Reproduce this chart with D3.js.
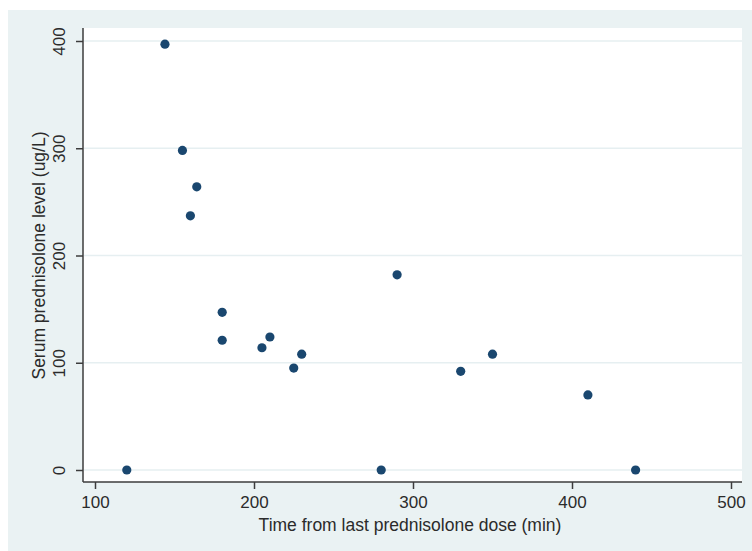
<!DOCTYPE html>
<html>
<head>
<meta charset="utf-8">
<script src="https://cdn.jsdelivr.net/npm/d3@7"></script>
<style>
  body { margin: 0; background: #ffffff; }
  text { font-family: "Liberation Sans", Arial, sans-serif; fill: #2b2b2b; }
</style>
</head>
<body>
<div id="chart"></div>
<script>
// data
var timeMin = [120, 144, 155, 164, 160, 180, 180, 205, 210, 225, 230, 280, 290, 330, 350, 410, 440];
var serumLevel = [0, 397, 298, 264, 237, 147, 121, 114, 124, 95, 108, 0, 182, 92, 108, 70, 0];
var xTicks = [100, 200, 300, 400, 500];
var yTicks = [0, 100, 200, 300, 400];
var xTitle = "Time from last prednisolone dose (min)";
var yTitle = "Serum prednisolone level (ug/L)";

var W = 752, H = 551;
var plot = { left: 83, right: 742, top: 28, bottom: 482 };

var svg = d3.select("#chart").append("svg")
    .attr("width", W)
    .attr("height", H);

// outer graph region
svg.append("rect")
    .attr("x", 8).attr("y", 10)
    .attr("width", W - 8).attr("height", H - 10)
    .attr("fill", "#eaf2f3");

// plot region
svg.append("rect")
    .attr("x", plot.left).attr("y", plot.top)
    .attr("width", plot.right - plot.left)
    .attr("height", plot.bottom - plot.top)
    .attr("fill", "#ffffff");

var x = d3.scaleLinear().domain([100, 500]).range([95, 731]);
var y = d3.scaleLinear().domain([0, 400]).range([470, 41]);

// horizontal grid
svg.append("g")
    .selectAll("line")
    .data(yTicks)
    .join("line")
    .attr("x1", plot.left + 1)
    .attr("x2", plot.right)
    .attr("y1", d => y(d))
    .attr("y2", d => y(d))
    .attr("stroke", "#e6eff1")
    .attr("stroke-width", 1.5);

// x axis
var xAxis = svg.append("g")
    .attr("transform", "translate(0," + plot.bottom + ")")
    .call(d3.axisBottom(x).tickValues(xTicks).tickSize(7).tickPadding(7).tickSizeOuter(0));
xAxis.select(".domain").attr("d", "M" + plot.left + ",0H" + plot.right);

// y axis
var yAxis = svg.append("g")
    .attr("transform", "translate(" + plot.left + ",0)")
    .call(d3.axisLeft(y).tickValues(yTicks).tickSize(7).tickSizeOuter(0));
yAxis.select(".domain").attr("d", "M0," + plot.top + "V" + plot.bottom);
yAxis.selectAll(".tick text")
    .attr("x", 0).attr("dy", 0)
    .attr("text-anchor", "middle")
    .attr("transform", "translate(-18,0) rotate(-90)");

svg.selectAll(".domain, .tick line")
    .attr("stroke", "#3c3c3c")
    .attr("stroke-width", 1.5);
svg.selectAll(".tick text")
    .style("font-size", "17px")
    .style("font-family", "'Liberation Sans', Arial, sans-serif")
    .attr("fill", "#2b2b2b");

// axis titles
svg.append("text")
    .attr("x", 410)
    .attr("y", 531)
    .attr("text-anchor", "middle")
    .style("font-size", "17.5px")
    .text(xTitle);

svg.append("text")
    .attr("transform", "translate(45," + ((y(0) + y(400)) / 2) + ") rotate(-90)")
    .attr("text-anchor", "middle")
    .style("font-size", "17.5px")
    .text(yTitle);

// points
svg.append("g")
    .selectAll("circle")
    .data(timeMin.map((t, i) => ({ t: t, v: serumLevel[i] })))
    .join("circle")
    .attr("cx", d => x(d.t))
    .attr("cy", d => y(d.v))
    .attr("r", 4.6)
    .attr("fill", "#1a476f");
</script>
</body>
</html>
